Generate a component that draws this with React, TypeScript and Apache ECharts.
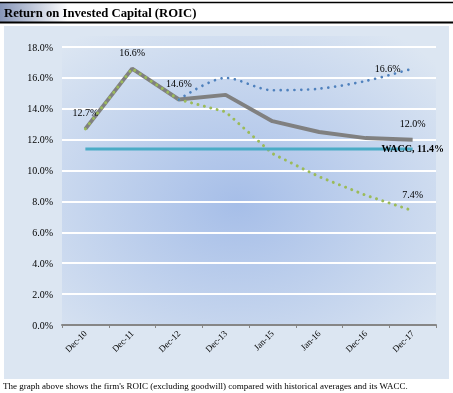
import React, { useEffect, useRef } from "react";
import * as echarts from "echarts";

const categories = ["Dec-10", "Dec-11", "Dec-12", "Dec-13", "Jan-15", "Jan-16", "Dec-16", "Dec-17"];
const roic = [12.7, 16.6, 14.6, 14.9, 13.2, 12.5, 12.1, 12.0];
const highAvg = [null, null, 14.6, 16.0, 15.2, 15.3, 15.8, 16.6];
const lowAvg = [12.7, 16.6, 14.6, 13.8, 11.1, 9.6, 8.4, 7.4];
const wacc = [11.4, 11.4, 11.4, 11.4, 11.4, 11.4, 11.4, 11.4];
const roicLabelIdx = [0, 1, 2, 7];
const titleText = "Return on Invested Capital (ROIC)";
const footerText = "The graph above shows the firm's ROIC (excluding goodwill) compared with historical averages and its WACC.";

const SERIF = "'Liberation Serif', 'Times New Roman', serif";

export default function App() {
  const ref = useRef<HTMLDivElement>(null);
  useEffect(() => {
    if (!ref.current) return;
    const chart = echarts.init(ref.current, null, { renderer: "svg" });
    const last = categories.length - 1;
    const hidden = { symbol: "circle", symbolSize: 0.1, showSymbol: true };
    chart.setOption({
      animation: false,
      textStyle: { fontFamily: SERIF },
      graphic: [
        { type: "rect", z: -10, shape: { x: 0, y: 3, width: 453, height: 19 },
          style: { fill: new echarts.graphic.LinearGradient(0, 0, 1, 0, [
            { offset: 0, color: "#8796b8" }, { offset: 0.15, color: "#ffffff" }, { offset: 1, color: "#ffffff" }]) } },
        { type: "line", z: 10, shape: { x1: 0, y1: 2.5, x2: 453, y2: 2.5 }, style: { stroke: "#000", lineWidth: 1.5 } },
        { type: "line", z: 10, shape: { x1: 0, y1: 22.5, x2: 453, y2: 22.5 }, style: { stroke: "#000", lineWidth: 2 } },
        { type: "text", z: 10, x: 4, y: 12.5, style: { text: titleText, font: `bold 12.7px ${SERIF}`, fill: "#000", verticalAlign: "middle" } },
        { type: "rect", z: -10, shape: { x: 4, y: 26, width: 445, height: 353 }, style: { fill: "#DCE6F2" } },
        { type: "rect", z: -9, shape: { x: 62, y: 36, width: 374, height: 289 },
          style: { fill: new echarts.graphic.RadialGradient(0.47, 0.58, 0.72, [
            { offset: 0, color: "#A6BEE8" }, { offset: 1, color: "#DCE6F2" }]) } },
        { type: "text", z: 10, x: 3, y: 386, style: { text: footerText, font: `9px ${SERIF}`, fill: "#000", verticalAlign: "middle" } },
      ],
      grid: { left: 62, right: 17, top: 47, bottom: 68, containLabel: false },
      xAxis: {
        type: "category",
        data: categories,
        boundaryGap: true,
        axisLine: { lineStyle: { color: "#868686", width: 2 } },
        axisTick: { show: true, length: 3, lineStyle: { color: "#868686", width: 1 } },
        axisLabel: { rotate: 45, fontSize: 9, color: "#000", fontFamily: SERIF, margin: 7 },
      },
      yAxis: {
        type: "value",
        min: 0,
        max: 18,
        interval: 2,
        axisLine: { show: false },
        axisTick: { show: false },
        splitLine: { lineStyle: { color: "#ffffff", width: 2 } },
        axisLabel: { formatter: (v: number) => v.toFixed(1) + "%", fontSize: 10, color: "#000", fontFamily: SERIF, margin: 9 },
      },
      series: [
        {
          name: "ROIC", type: "line", data: roic, ...hidden, z: 2,
          itemStyle: { color: "#808080" },
          lineStyle: { color: "#808080", width: 4 },
          label: {
            show: true, position: "top", distance: 11, fontSize: 10, color: "#000", fontFamily: SERIF,
            formatter: (p: any) => (roicLabelIdx.includes(p.dataIndex) ? p.value.toFixed(1) + "%" : ""),
          },
        },
        {
          name: "Low", type: "line", data: lowAvg, ...hidden, z: 3,
          itemStyle: { color: "#9BBB59" },
          lineStyle: { color: "#9BBB59", width: 3, type: [0.01, 6.6], cap: "round" },
          label: {
            show: true, position: "top", distance: 11, fontSize: 10, color: "#000", fontFamily: SERIF,
            formatter: (p: any) => (p.dataIndex === last ? p.value.toFixed(1) + "%" : ""),
          },
        },
        {
          name: "High", type: "line", data: highAvg, ...hidden, z: 3, smooth: 0.3, connectNulls: false,
          itemStyle: { color: "#4F81BD" },
          lineStyle: { color: "#4F81BD", width: 2.7, type: [0.01, 6.8], cap: "round" },
          label: {
            show: true, position: "left", distance: 12, fontSize: 10, color: "#000", fontFamily: SERIF,
            formatter: (p: any) => (p.dataIndex === last ? p.value.toFixed(1) + "%" : ""),
          },
        },
        {
          name: "WACC", type: "line", data: wacc, ...hidden, z: 4,
          itemStyle: { color: "#4BACC6" },
          lineStyle: { color: "#4BACC6", width: 3 },
          label: {
            show: true, position: "inside", fontSize: 10, fontWeight: "bold", color: "#000", fontFamily: SERIF,
            formatter: (p: any) => (p.dataIndex === last ? "WACC, " + p.value.toFixed(1) + "%" : ""),
          },
        },
      ],
    });
    return () => chart.dispose();
  }, []);
  return <div ref={ref} style={{ position: "fixed", left: 0, top: 0, width: 453, height: 393 }} />;
}
